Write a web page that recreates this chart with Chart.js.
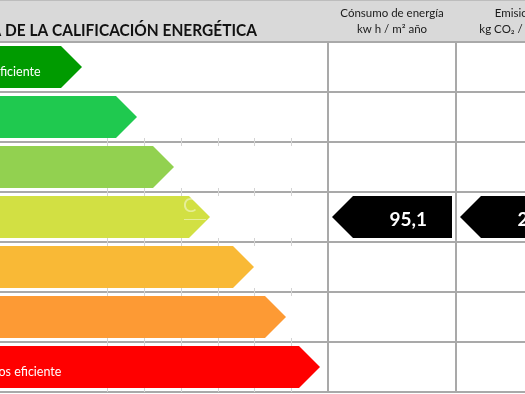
<!DOCTYPE html>
<html><head><meta charset="utf-8">
<script src="https://cdn.jsdelivr.net/npm/chart.js@4"></script>
<style>html,body{margin:0;padding:0;background:#fff;overflow:hidden}#wrap{width:525px;height:394px;position:relative}</style>
</head><body><div id="wrap"><canvas id="c" width="525" height="394"></canvas></div>
<script>
// ---- data ----
const classes = ['A', 'B', 'C', 'D', 'E', 'F', 'G'];
const arrowLengths = [82, 137, 174, 210, 254, 286, 320];
const classColors = ['#009b00', '#1fc94f', '#92d150', '#d2e043', '#f9b936', '#fd9a34', '#ff0000'];
const rowLabels = ['Más eficiente', '', '', '', '', '', 'Menos eficiente'];
const columnEdges = [328, 456, 584];
const sheetGrid = [107, 144, 181, 218, 254, 291];
const ratedClass = 'D';
const ratingValues = ['95,1', '21,6'];
const title = 'ESCALA DE LA CALIFICACIÓN ENERGÉTICA';
const columnTitles = [['Cónsumo de energía', 'kw h / m² año'], ['Emisiones', 'kg CO₂ / m² año']];

const FONT = 'Lato, "Open Sans", sans-serif';

function fitText(ctx, text, x, y, align, scaleX) {
  ctx.save();
  ctx.translate(x, y);
  ctx.scale(scaleX, 1);
  ctx.textAlign = align;
  ctx.fillText(text, 0, 0);
  ctx.restore();
}

const labelArt = {
  id: 'labelArt',
  beforeDraw(chart) {
    const ctx = chart.ctx;
    const top = chart.chartArea.top;
    ctx.save();
    ctx.fillStyle = '#d9d9d9';
    ctx.fillRect(0, 0, chart.width, top);
    ctx.fillStyle = '#bdbdbd';
    ctx.fillRect(0, 0, chart.width, 1);
    // title
    ctx.fillStyle = '#111';
    ctx.font = 'bold 17px ' + FONT;
    const sub = title.slice(title.indexOf('DE LA'));
    const sx = 252 / ctx.measureText(sub).width;
    fitText(ctx, title, 257, 36, 'right', sx);
    // column titles
    ctx.fillStyle = '#1a1a1a';
    ctx.font = '11.5px ' + FONT;
    const xs = chart.scales.x;
    columnTitles.forEach((lines, i) => {
      const cx = (xs.getPixelForValue(columnEdges[i]) + xs.getPixelForValue(columnEdges[i + 1])) / 2;
      ctx.textAlign = 'center';
      ctx.fillText(lines[0], cx, 17);
      ctx.fillText(lines[1], cx, 33);
    });
    ctx.restore();
  },
  beforeDatasetsDraw(chart) {
    const ctx = chart.ctx;
    const meta = chart.getDatasetMeta(0);
    const xs = chart.scales.x;
    ctx.save();
    ctx.strokeStyle = '#d4d4d4';
    ctx.lineWidth = 1;
    for (let i = 2; i <= classes.length; i++) {
      const prev = meta.data[i - 1];
      const next = meta.data[i];
      const y0 = prev.y + prev.height / 2;
      const y1 = next ? next.y - next.height / 2 : chart.chartArea.bottom;
      sheetGrid.forEach(v => {
        const x = Math.round(xs.getPixelForValue(v)) + 0.5;
        ctx.beginPath(); ctx.moveTo(x, y0); ctx.lineTo(x, y1); ctx.stroke();
      });
    }
    ctx.restore();
  },
  afterDatasetsDraw(chart) {
    const ctx = chart.ctx;
    const meta = chart.getDatasetMeta(0);
    const xs = chart.scales.x;
    ctx.save();
    meta.data.forEach((el, i) => {
      const h = el.height, half = h / 2;
      const t = el.y - half, b = el.y + half;
      ctx.fillStyle = classColors[i];
      ctx.beginPath();
      ctx.moveTo(el.base - 5, t);
      ctx.lineTo(el.x - half, t);
      ctx.lineTo(el.x, el.y);
      ctx.lineTo(el.x - half, b);
      ctx.lineTo(el.base - 5, b);
      ctx.closePath();
      ctx.fill();
      if (rowLabels[i]) {
        ctx.fillStyle = '#fff';
        ctx.font = '12.5px ' + FONT;
        ctx.textAlign = 'left';
        // keep the visible tail of the label where the reference shows it
        const hidden = i === 0 ? 'Más e' : 'Men';
        const start = i === 0 ? 0 : -1.5;
        ctx.fillText(rowLabels[i], start - ctx.measureText(hidden).width, el.y + 9);
      }
    });
    // watermark hint
    const d = meta.data[classes.indexOf('D')];
    ctx.fillStyle = 'rgba(255,255,255,0.45)';
    ctx.font = '20px ' + FONT;
    ctx.textAlign = 'left';
    ctx.fillText('C', 183, d.y - 5);
    ctx.fillRect(184, d.y + 2, 22, 1);
    // rating markers
    const r = meta.data[classes.indexOf(ratedClass)];
    const half = r.height / 2, t = r.y - half, b = r.y + half;
    ratingValues.forEach((val, c) => {
      const left = xs.getPixelForValue(columnEdges[c]) + 4;
      const right = xs.getPixelForValue(columnEdges[c + 1]) - 4;
      ctx.fillStyle = '#000';
      ctx.beginPath();
      ctx.moveTo(left, r.y);
      ctx.lineTo(left + half, t);
      ctx.lineTo(right, t);
      ctx.lineTo(right, b);
      ctx.lineTo(left + half, b);
      ctx.closePath();
      ctx.fill();
      ctx.fillStyle = '#fff';
      ctx.font = 'bold 19px ' + FONT;
      ctx.textAlign = 'right';
      ctx.fillText(val, right - 25, r.y + 9);
    });
    ctx.restore();
  }
};

new Chart(document.getElementById('c'), {
  type: 'bar',
  data: {
    labels: classes,
    datasets: [{
      data: arrowLengths,
      backgroundColor: 'rgba(0,0,0,0)',
      borderWidth: 0,
      barPercentage: 0.84,
      categoryPercentage: 1
    }]
  },
  options: {
    indexAxis: 'y',
    responsive: false,
    animation: false,
    devicePixelRatio: 1,
    layout: { padding: { top: 42, bottom: 2, left: 0, right: 0 } },
    plugins: { legend: { display: false }, tooltip: { enabled: false } },
    scales: {
      x: {
        type: 'linear', min: 0, max: 525,
        afterBuildTicks: s => { s.ticks = columnEdges.filter(v => v <= 525).map(v => ({ value: v })); },
        ticks: { display: false },
        grid: { color: '#a9a9a9', lineWidth: 2, drawTicks: false },
        border: { display: false },
        afterFit: s => { s.height = 0; }
      },
      y: {
        type: 'category', offset: true,
        ticks: { display: false },
        grid: { offset: true, color: '#a9a9a9', lineWidth: 2, drawTicks: false },
        border: { display: false },
        afterFit: s => { s.width = 0; }
      }
    }
  },
  plugins: [labelArt]
});
</script></body></html>
